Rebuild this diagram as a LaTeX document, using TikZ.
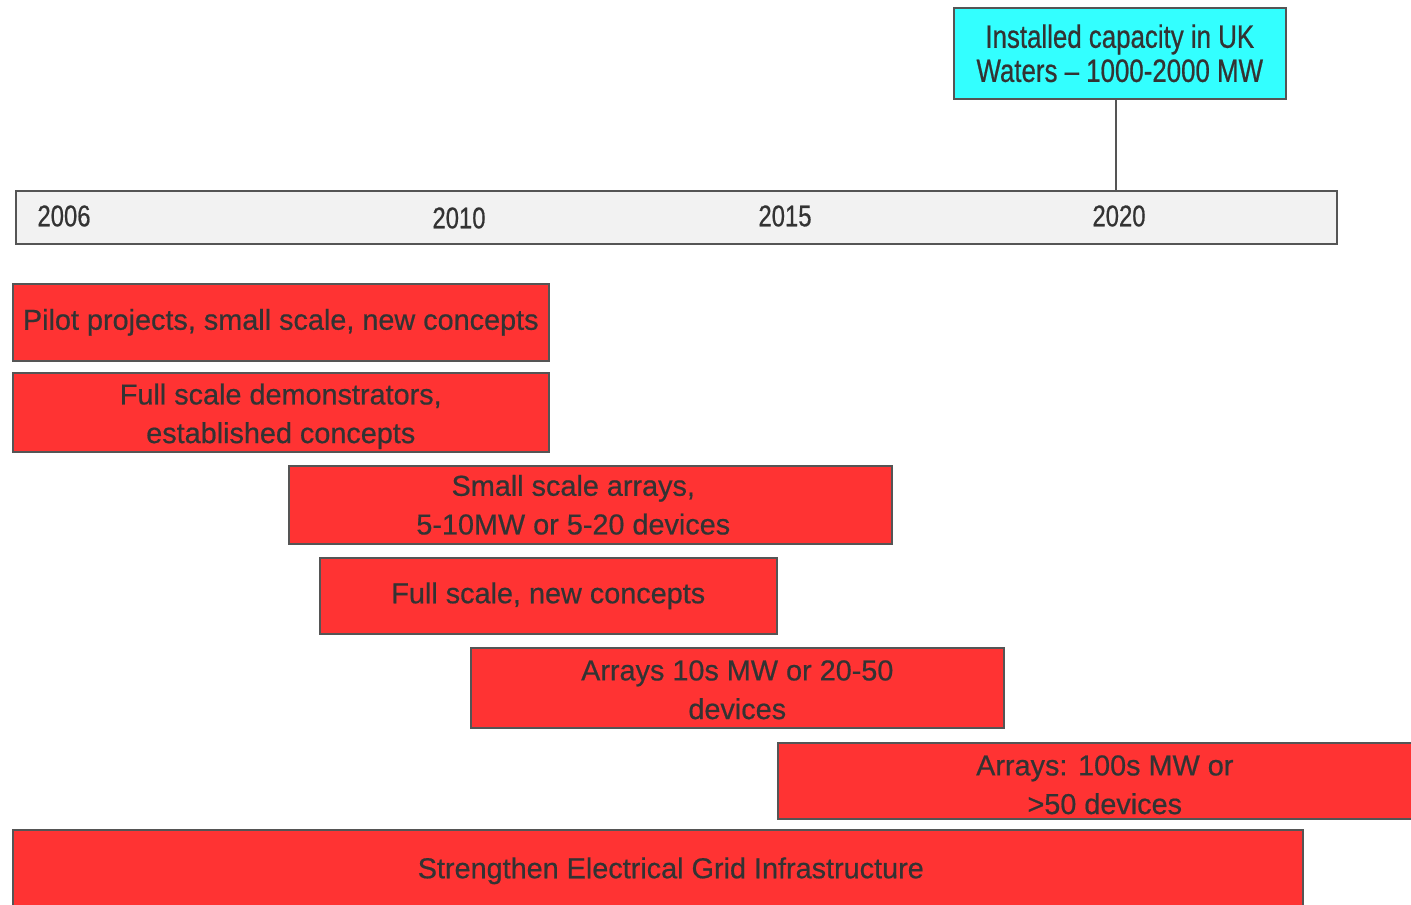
\documentclass[tikz,border=0pt]{standalone}
\usepackage{fontspec}
\setmainfont{Liberation Sans}[FakeBold=0.6]
\newfontfamily\narrowfont[FakeStretch=0.8,FakeBold=0.6]{Liberation Sans}
\definecolor{barred}{HTML}{FF3333}
\definecolor{capcyan}{HTML}{33FFFF}
\definecolor{barfill}{HTML}{F2F2F2}
\definecolor{edge}{HTML}{555555}
\definecolor{txt}{HTML}{333333}
\begin{document}
\begin{tikzpicture}[x=0.02cm,y=-0.02cm,
  redbox/.style={draw=edge,line width=0.9pt,fill=barred,inner sep=0pt,align=center,
    anchor=north west,text=txt,font=\fontsize{16.4}{22}\selectfont},
  boxtext/.style={inner sep=0pt,align=center,text=txt,font=\fontsize{16.4}{22}\selectfont},
  capbox/.style={draw=edge,line width=0.9pt,fill=capcyan,inner sep=0pt,align=center,
    anchor=north west,text=txt,font=\narrowfont\fontsize{18.4}{19.4}\selectfont},
  timebar/.style={draw=edge,line width=1pt,fill=barfill,inner sep=0pt,anchor=north west},
  yearlbl/.style={text=txt,font=\narrowfont\fontsize{17}{20}\selectfont,inner sep=0pt},
  link/.style={draw=edge,line width=0.8pt}]
\useasboundingbox (0,0) rectangle (1411,904);
\clip (0,0) rectangle (1411,904);
\fill[white] (0,0) rectangle (1411,904);

\node[capbox,minimum width={332*0.02cm},minimum height={91*0.02cm}] (cap) at (953,7)
  {Installed capacity in UK\\Waters \textendash{} 1000-2000 MW};
\node[timebar,minimum width={1321*0.02cm},minimum height={53*0.02cm}] (bar) at (15,190) {};
\draw[link] (1116,98) coordinate (c1) -- (c1 |- bar.north);

\node[yearlbl] (y2006) at (64,216) {2006};
\node[yearlbl] (y2010) at (459,218) {2010};
\node[yearlbl] (y2015) at (785,216) {2015};
\node[yearlbl] (y2020) at (1119,216) {2020};

\node[redbox,minimum width={536*0.02cm},minimum height={77*0.02cm}] (b1) at (12,283)
  {Pilot projects, small scale, new concepts};
\node[redbox,minimum width={536*0.02cm},minimum height={79*0.02cm},
  label={[boxtext,yshift={-4*0.02cm}]center:Full scale demonstrators,\\established concepts}] (b2) at (12,372) {};
\node[redbox,minimum width={603*0.02cm},minimum height={78*0.02cm},
  label={[boxtext,xshift={-17*0.02cm}]center:Small scale arrays,\\5-10MW or 5-20 devices}] (b3) at (288,465) {};
\node[redbox,minimum width={457*0.02cm},minimum height={76*0.02cm}] (b4) at (319,557)
  {Full scale, new concepts};
\node[redbox,minimum width={533*0.02cm},minimum height={80*0.02cm},
  label={[boxtext,yshift={-2*0.02cm}]center:Arrays 10s MW or 20-50\\devices}] (b5) at (470,647) {};
\node[redbox,minimum width={654*0.02cm},minimum height={76*0.02cm},
  label={[boxtext,yshift={-4*0.02cm}]center:Arrays: 100s MW or\\>50 devices}] (b6) at (777,742) {};
\node[redbox,minimum width={1290*0.02cm},minimum height={82*0.02cm},
  label={[boxtext,xshift={13*0.02cm}]center:Strengthen Electrical Grid Infrastructure}] (b7) at (12,829) {};
\end{tikzpicture}
\end{document}
